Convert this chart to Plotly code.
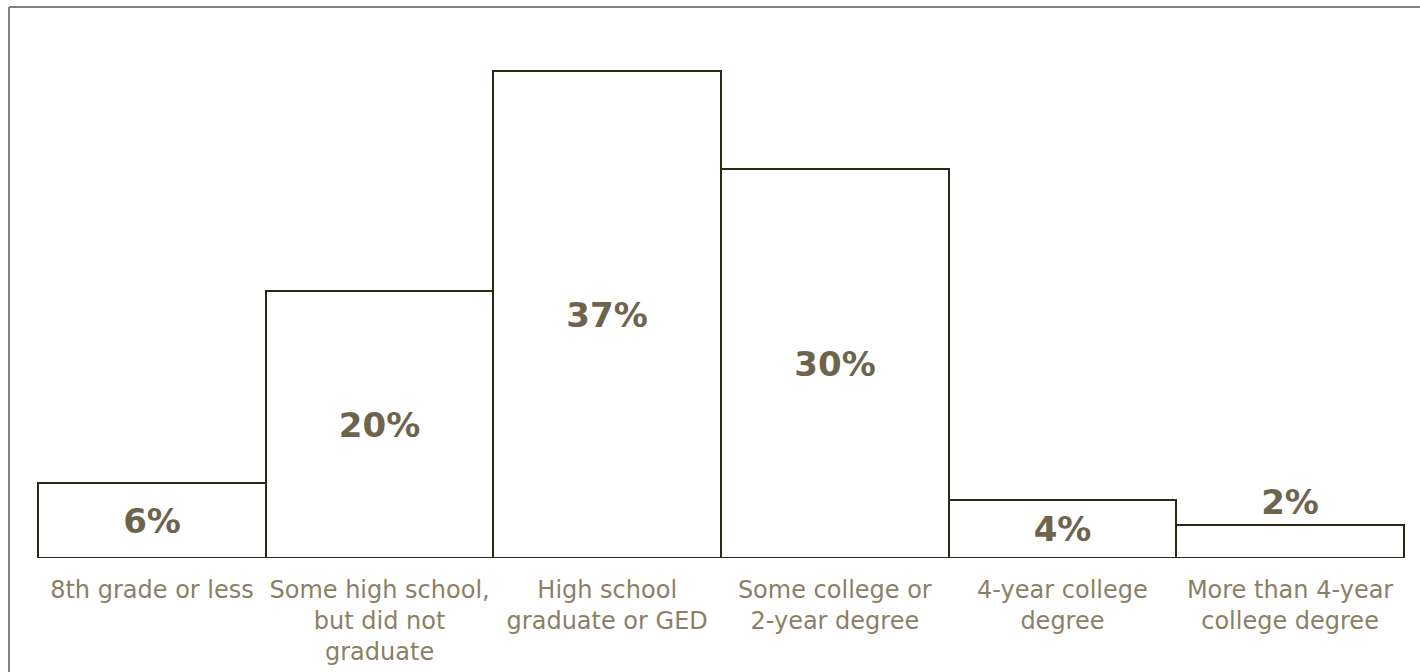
import plotly.graph_objects as go

categories = [
    "8th grade or less",
    "Some high school,<br>but did not<br>graduate",
    "High school<br>graduate or GED",
    "Some college or<br>2-year degree",
    "4-year college<br>degree",
    "More than 4-year<br>college degree",
]
values = [5.7, 20.3, 37.0, 29.6, 4.4, 2.5]
labels = ["6%", "20%", "37%", "30%", "4%", "2%"]
positions = ["inside", "inside", "inside", "inside", "inside", "outside"]

fig = go.Figure(go.Bar(
    x=list(range(len(categories))),
    y=values,
    text=labels,
    textposition=positions,
    insidetextanchor="middle",
    constraintext="none",
    cliponaxis=False,
    textfont=dict(family="DejaVu Sans", size=34, color="#6e644b"),
    outsidetextfont=dict(family="DejaVu Sans", size=34, color="#6e644b"),
    marker=dict(color="white", line=dict(color="#2b2818", width=2)),
    hoverinfo="skip",
))
fig.update_traces(textfont_weight="bold", outsidetextfont_weight="bold")

fig.update_layout(
    width=1420, height=672,
    margin=dict(l=37, r=15, t=32, b=114),
    paper_bgcolor="white", plot_bgcolor="white",
    bargap=0,
    showlegend=False,
    font=dict(family="DejaVu Sans"),
    xaxis=dict(
        range=[-0.505, 5.505],
        tickmode="array",
        tickvals=list(range(len(categories))),
        ticktext=categories,
        automargin=False,
        showgrid=False, zeroline=False, showline=False,
        ticks="outside", ticklen=10, tickcolor="rgba(0,0,0,0)",
        tickfont=dict(family="DejaVu Sans", size=24, color="#8c8064"),
        fixedrange=True,
    ),
    yaxis=dict(range=[0, 40], visible=False, fixedrange=True, automargin=False),
    shapes=[
        dict(type="line", xref="paper", yref="paper",
             x0=(9 - 37) / 1368, x1=1.2, y0=1 + (32 - 7) / 526, y1=1 + (32 - 7) / 526,
             line=dict(color="#808080", width=2)),
        dict(type="line", xref="paper", yref="paper",
             x0=(9 - 37) / 1368, x1=(9 - 37) / 1368, y0=1 + (32 - 7) / 526, y1=-0.5,
             line=dict(color="#808080", width=2)),
    ],
)

fig.write_html("out.html", config={"displayModeBar": False})
